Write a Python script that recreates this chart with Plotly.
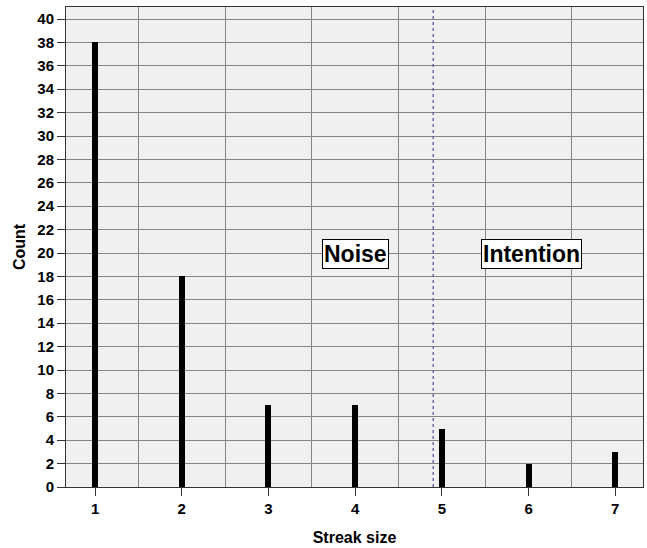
import plotly.graph_objects as go

streak_size = [1, 2, 3, 4, 5, 6, 7]
counts = [38, 18, 7, 7, 5, 2, 3]
threshold = 4.9
y_ticks = list(range(0, 41, 2))
labels = [("Noise", 4.0, 19.9), ("Intention", 6.03, 19.9)]

FONT = "Liberation Sans, Arial, sans-serif"

fig = go.Figure()
fig.add_trace(go.Bar(
    x=streak_size, y=counts, width=0.07,
    marker=dict(color="black", line=dict(width=0)),
    showlegend=False, hoverinfo="x+y",
))

fig.add_shape(type="line", xref="x", yref="paper", x0=threshold, x1=threshold,
              y0=0, y1=1, line=dict(color="#5b5ba8", width=1.3, dash="dot"), layer="above")

for text, x, y in labels:
    fig.add_annotation(x=x, y=y, xref="x", yref="y", text="<b>%s</b>" % text,
                       showarrow=False, font=dict(family=FONT, size=23, color="black"),
                       bgcolor="white", bordercolor="black", borderwidth=1, borderpad=1)

# y-axis title placed as a rotated annotation
fig.add_annotation(x=0, y=0.5, xref="paper", yref="paper", xanchor="center", yanchor="middle",
                   xshift=-47, textangle=-90, text="<b>Count</b>", showarrow=False,
                   font=dict(family=FONT, size=16, color="black"))

fig.update_layout(
    width=647, height=548,
    margin=dict(l=66, r=4, t=7, b=61),
    paper_bgcolor="white", plot_bgcolor="#f0f0f0",
    font=dict(family=FONT, color="black"),
    bargap=0,
    xaxis=dict(
        range=[0.665, 7.32], tickvals=streak_size,
        ticktext=["<b>%d</b>" % v for v in streak_size],
        tickfont=dict(size=15), ticks="outside", ticklen=8, tickcolor="#333",
        showgrid=False, zeroline=False, automargin=False,
        showline=True, linecolor="#333", linewidth=1, mirror=True,
        minor=dict(tickvals=[1.5, 2.5, 3.5, 4.5, 5.5, 6.5], showgrid=True,
                   gridcolor="#858585", gridwidth=1.2, ticks=""),
        title=dict(text="<b>Streak size</b>", font=dict(size=16)),
    ),
    yaxis=dict(
        range=[0, 41.03], tickvals=y_ticks,
        ticktext=["<b>%d</b>" % v for v in y_ticks],
        tickfont=dict(size=15), ticks="outside", ticklen=8, tickcolor="#333",
        showgrid=True, gridcolor="#858585", gridwidth=1.2, zeroline=False, automargin=False,
        showline=True, linecolor="#333", linewidth=1, mirror=True,
    ),
)

fig.write_html("out.html", config={"displayModeBar": False},
               post_script="document.body.style.margin='0';")
